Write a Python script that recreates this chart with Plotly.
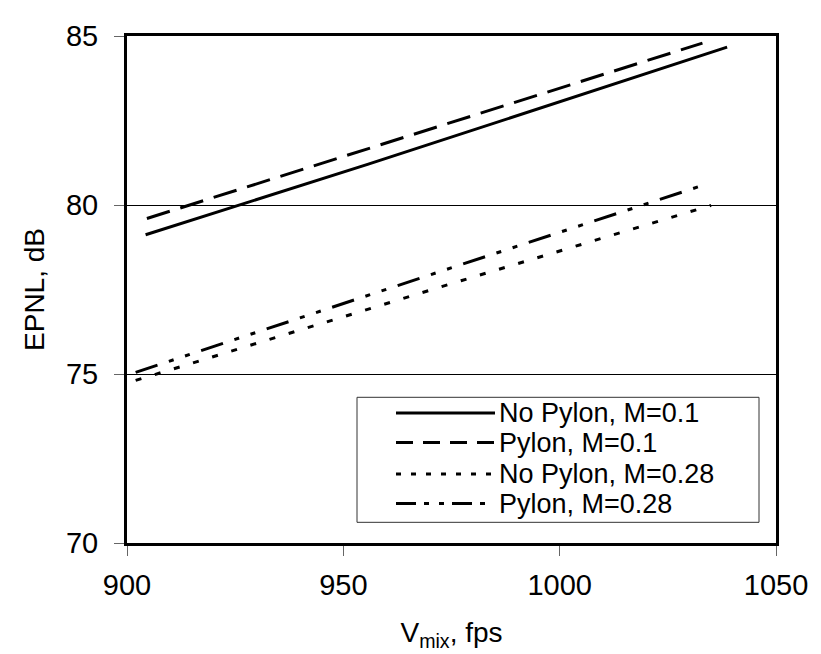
import plotly.graph_objects as go

# ---- data ----
series_names = ["No Pylon, M=0.1", "Pylon, M=0.1", "No Pylon, M=0.28", "Pylon, M=0.28"]
v_no_pylon_m01 = [904.3, 955.6, 1038.7]
epnl_no_pylon_m01 = [79.12, 81.2, 84.67]
v_pylon_m01 = [904.6, 939.1, 1033.0]
epnl_pylon_m01 = [79.60, 81.0, 84.79]
v_no_pylon_m028 = [902.0, 977.2, 1035.0]
epnl_no_pylon_m028 = [74.81, 77.76, 79.99]
v_pylon_m028 = [902.0, 971.6, 1032.8]
epnl_pylon_m028 = [75.05, 78.0, 80.57]
x_ticks = [900, 950, 1000, 1050]
y_ticks = [70, 75, 80, 85]

xs = [v_no_pylon_m01, v_pylon_m01, v_no_pylon_m028, v_pylon_m028]
ys = [epnl_no_pylon_m01, epnl_pylon_m01, epnl_no_pylon_m028, epnl_pylon_m028]
dashes = ["solid", "24px,11px", "6px,14px", "23px,12px,5px,12px,5px,12px"]
legend_dashes = ["solid", "17px,10px", "5px,10px", "20px,8px,5px,10px,5px,8px"]

FONT = "Liberation Sans, Arial, sans-serif"

fig = go.Figure()
for x, y, name, d in zip(xs, ys, series_names, dashes):
    fig.add_trace(go.Scatter(x=x, y=y, mode="lines", name=name,
                             line=dict(color="black", width=3, dash=d),
                             showlegend=False))

# custom legend box (Excel-style)
L = 119; R = 768; T = 20; B = 535
def px(xp): return (xp - L) / (R - L)
def py(yp): return (B - yp) / (B - T)

shapes = [dict(type="rect", xref="paper", yref="paper",
               x0=px(349), x1=px(751), y0=py(514), y1=py(387),
               line=dict(color="#333", width=1), fillcolor="white", layer="above")]
annotations = []
row_y = [403, 433, 465, 495]
for name, d, ry in zip(series_names, legend_dashes, row_y):
    shapes.append(dict(type="line", xref="paper", yref="paper",
                       x0=px(388), x1=px(487), y0=py(ry), y1=py(ry),
                       line=dict(color="black", width=3, dash=d), layer="above"))
    annotations.append(dict(xref="paper", yref="paper", x=px(489), y=py(ry),
                            xanchor="left", yanchor="middle", showarrow=False,
                            text=name, font=dict(family=FONT, size=27, color="black")))

fig.update_layout(
    width=821, height=654,
    margin=dict(l=L, r=821 - R, t=T, b=654 - B),
    paper_bgcolor="white", plot_bgcolor="white",
    font=dict(family=FONT, size=28, color="black"),
    shapes=shapes, annotations=annotations,
)
fig.update_xaxes(range=[900, 1050], tickvals=x_ticks, ticks="outside", ticklen=10,
                 tickcolor="#666", tickwidth=1, showgrid=False, zeroline=False,
                 showline=True, linecolor="black", linewidth=3, mirror=True,
                 tickfont=dict(size=29), ticklabelstandoff=4,
                 title=dict(text="V<sub>mix</sub>, fps", font=dict(size=28), standoff=23))
fig.update_yaxes(range=[70, 85], tickvals=y_ticks, ticks="outside", ticklen=10,
                 tickcolor="#666", tickwidth=1, showgrid=True, gridcolor="black",
                 gridwidth=1, zeroline=False,
                 showline=True, linecolor="black", linewidth=3, mirror=True,
                 tickfont=dict(size=29), ticklabelstandoff=10,
                 title=dict(text="EPNL, dB", font=dict(size=28), standoff=14))

fig.write_html("out.html")
